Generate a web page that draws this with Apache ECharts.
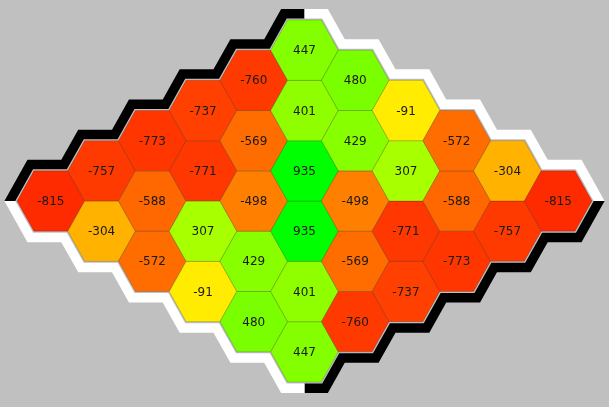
<!DOCTYPE html>
<html><head><meta charset="utf-8">
<script src="https://cdn.jsdelivr.net/npm/echarts@6/dist/echarts.min.js"></script>
<style>html,body{margin:0;padding:0;background:#c0c0c0}#chart{width:609px;height:407px}</style>
</head><body><div id="chart"></div>
<script>
// Hex rhombus values: row i runs up-right from the left corner, position j runs down-right
const row0 = [-815, -304, -572, -91, 480, 447];
const row1 = [-757, -588, 307, 429, 401, -760];
const row2 = [-773, -771, -498, 935, -569, -737];
const row3 = [-737, -569, 935, -498, -771, -773];
const row4 = [-760, 401, 429, 307, -588, -757];
const row5 = [447, 480, -91, -572, -304, -815];
const rows = [row0, row1, row2, row3, row4, row5];
const valueMin = -815, valueMax = 935;

const N = rows.length;
const hexData = [];
rows.forEach((r, i) => r.forEach((v, j) => hexData.push([i + j, j - i, v])));

function hsl2hex(h, s, l) {
  s /= 100; l /= 100;
  const k = n => (n + h / 30) % 12;
  const a = s * Math.min(l, 1 - l);
  const f = n => l - a * Math.max(-1, Math.min(k(n) - 3, Math.min(9 - k(n), 1)));
  const t = x => Math.round(x * 255).toString(16).padStart(2, '0');
  return '#' + t(f(0)) + t(f(8)) + t(f(4));
}
const colorStops = [];
for (let s = 0; s <= 11; s++) colorStops.push(hsl2hex(10 + (120 - 10) * s / 11, 100, 50));

function renderHex(params, api) {
  const c = api.value(0), k = api.value(1);
  const pts = [[c - 2/3, k], [c - 1/3, k - 1], [c + 1/3, k - 1], [c + 2/3, k], [c + 1/3, k + 1], [c - 1/3, k + 1]]
    .map(p => api.coord(p));
  const ctr = api.coord([c, k]);
  return {
    type: 'group', children: [
      { type: 'polygon', shape: { points: pts }, style: { fill: api.visual('color'), stroke: 'rgba(0,0,0,0.18)', lineWidth: 1 } },
      { type: 'text', x: ctr[0], y: ctr[1] + 1, style: { text: String(api.value(2)), fill: '#1a1a1a', font: '12px "DejaVu Sans"', align: 'center', verticalAlign: 'middle' } }
    ]
  };
}

function renderBand(params, api) {
  // outer boundary of the rhombus in data space
  const top = [];
  for (let i = 0; i < N; i++) { top.push([i - 2/3, -i]); top.push([i - 1/3, -i - 1]); }
  const T = top.length; top.push([N - 1, -N]); top.push([N - 1 + 1/3, -N]);
  for (let m = 0; m < N; m++) { const c = N - 1 + m, k = -(N - 1) + m; top.push([c + 2/3, k]); if (m < N - 1) top.push([c + 4/3, k]); }
  const R = top.length - 1;
  const loop = top.slice();
  for (let q = 1; q < top.length - 1; q++) loop.push([2 * (N - 1) - top[q][0], -top[q][1]]);
  const B = R + T;
  const P = loop.map(p => api.coord(p));
  const L = P.length;
  const norm = (a, b) => { const dx = b[0] - a[0], dy = b[1] - a[1], len = Math.hypot(dx, dy); return [dy / len, -dx / len]; };
  const off = d => P.map((v, idx) => {
    const a = P[(idx - 1 + L) % L], b = P[(idx + 1) % L];
    const n1 = norm(a, v), n2 = norm(v, b);
    let mx = n1[0] + n2[0], my = n1[1] + n2[1]; const ml = Math.hypot(mx, my); mx /= ml; my /= ml;
    const f = d / (mx * n1[0] + my * n1[1]);
    return [v[0] + mx * f, v[1] + my * f];
  });
  const inner = off(1.5), outer = off(11);
  const seg = (s, e, color) => {
    const pts = [];
    for (let q = s; q <= e; q++) pts.push(outer[q % L]);
    for (let q = e; q >= s; q--) pts.push(inner[q % L]);
    return { type: 'polygon', shape: { points: pts }, style: { fill: color } };
  };
  return { type: 'group', children: [seg(0, T, '#000'), seg(T, R, '#fff'), seg(R, B, '#000'), seg(B, L, '#fff')] };
}

const chart = echarts.init(document.getElementById('chart'));
chart.setOption({
  backgroundColor: '#c0c0c0',
  animation: false,
  grid: { left: 17, top: 20, width: 575, height: 362 },
  xAxis: { type: 'value', min: -2/3, max: 2 * (N - 1) + 2/3, show: false },
  yAxis: { type: 'value', min: -N, max: N, inverse: true, show: false },
  visualMap: { type: 'continuous', show: false, min: valueMin, max: valueMax, dimension: 2, seriesIndex: 1, inRange: { color: colorStops } },
  series: [
    { type: 'custom', renderItem: renderBand, data: [[0, 0]], silent: true },
    { type: 'custom', renderItem: renderHex, data: hexData, encode: { x: 0, y: 1 } }
  ]
});
</script></body></html>
